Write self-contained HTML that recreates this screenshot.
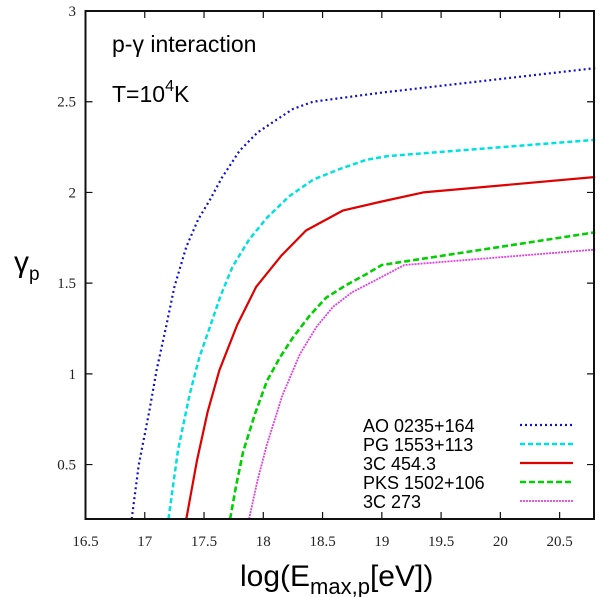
<!DOCTYPE html>
<html><head><meta charset="utf-8"><style>
body{margin:0;background:#fff}
svg{display:block}
text{font-family:"Liberation Sans",sans-serif}
.tk{font-family:"Liberation Serif",serif;font-size:15px;fill:#222}
</style></head><body>
<svg id="chart" width="600" height="597" viewBox="0 0 600 597">
<g id="marks"></g>
<rect x="85.5" y="11" width="508.5" height="508" fill="none" stroke="#111" stroke-width="2"/>
<g id="axes"></g>
<text x="112" y="52" font-size="23">p-γ interaction</text>
<text x="112" y="102" font-size="23">T=10<tspan dy="-11" font-size="16">4</tspan><tspan dy="11">K</tspan></text>
<text x="14" y="272" font-size="30">γ<tspan dy="8" font-size="19">p</tspan></text>
<text x="240" y="586" font-size="30">log(E<tspan dy="8" font-size="22">max,p</tspan><tspan dy="-8">[eV])</tspan></text>
<g id="legend"></g>
</svg>
<script>
const xTicks=[16.5,17,17.5,18,18.5,19,19.5,20,20.5];
const yTicks=[0.5,1,1.5,2,2.5,3];
const seriesNames=["AO 0235+164","PG 1553+113","3C 454.3","PKS 1502+106","3C 273"];
const aoX=[16.89,16.95,17.04,17.1,17.18,17.25,17.35,17.45,17.55,17.65,17.80,17.95,18.11,18.25,18.42,19.0,20.8];
const aoY=[0.2,0.5,0.80,1.02,1.26,1.48,1.70,1.85,1.96,2.08,2.23,2.33,2.40,2.46,2.50,2.55,2.685];
const pgX=[17.20,17.28,17.38,17.46,17.55,17.64,17.74,17.88,18.03,18.22,18.42,18.65,18.87,19.05,20.8];
const pgY=[0.2,0.58,0.89,1.09,1.26,1.43,1.59,1.74,1.86,1.98,2.07,2.13,2.18,2.20,2.29];
const c3X=[17.35,17.44,17.53,17.63,17.78,17.94,18.15,18.36,18.67,19.0,19.35,20.8];
const c3Y=[0.2,0.52,0.79,1.02,1.27,1.48,1.65,1.79,1.90,1.95,2.0,2.085];
const pkX=[17.72,17.77,17.83,17.93,18.03,18.14,18.25,18.39,18.53,18.70,18.87,19.0,20.8];
const pkY=[0.2,0.38,0.57,0.78,0.96,1.09,1.20,1.32,1.42,1.49,1.55,1.60,1.78];
const c273X=[17.88,17.95,18.03,18.16,18.31,18.45,18.59,18.75,18.93,19.19,20.8];
const c273Y=[0.2,0.41,0.61,0.88,1.11,1.26,1.37,1.45,1.51,1.60,1.685];
const colors=["#1010d0","#00e0e0","#e00000","#00d000","#e040e0"];
const dashes=["2,3","5,3","","6,3","2,1"];
const widths=[2.2,2.5,2.2,2.6,1.8];
const allX=[aoX,pgX,c3X,pkX,c273X], allY=[aoY,pgY,c3Y,pkY,c273Y];
const X0=85.5,X1=594,Y0=519,Y1=11,xmin=16.5,xmax=20.79,ymin=0.2,ymax=3;
const sx=v=>X0+(v-xmin)/(xmax-xmin)*(X1-X0);
const sy=v=>Y0-(v-ymin)/(ymax-ymin)*(Y0-Y1);
const NS="http://www.w3.org/2000/svg";
function mk(t,a,p){const e=document.createElementNS(NS,t);for(const k in a)e.setAttribute(k,a[k]);p.appendChild(e);return e;}
const axes=document.getElementById('axes'),marks=document.getElementById('marks'),leg=document.getElementById('legend');
xTicks.forEach(v=>{const x=sx(v);
 let l=mk('path',{d:`M${x},${Y0}v-7M${x},${Y1}v7`,stroke:'#111','stroke-width':1.2},axes);
 
 
 let t=mk('text',{x:x,y:546,'text-anchor':'middle',class:'tk'},axes);t.textContent=v;
 
 });
yTicks.forEach(v=>{const y=sy(v);
 let l=mk('path',{d:`M${X0},${y}h7M${X1},${y}h-7`,stroke:'#111','stroke-width':1.2},axes);
 
 
 let t=mk('text',{x:76,y:y+5,'text-anchor':'end',class:'tk'},axes);t.textContent=v;
 
 });
const legY=[425,444,463,482,501];
allX.forEach((xs,i)=>{
 const d=xs.map((x,j)=>(j?'L':'M')+sx(x).toFixed(1)+','+sy(allY[i][j]).toFixed(1)).join('');
 const p=mk('path',{d:d,fill:'none',stroke:colors[i],'stroke-width':widths[i],'stroke-dasharray':dashes[i],'stroke-linejoin':'round'},marks);
 
 
 const t=mk('text',{x:363,y:legY[i]+7,'font-size':18},leg);t.textContent=seriesNames[i];
 
 
 const s=mk('path',{d:`M520,${legY[i]}H573`,stroke:colors[i],'stroke-width':widths[i],'stroke-dasharray':dashes[i]},leg);
 
 
});
</script>
</body></html>
